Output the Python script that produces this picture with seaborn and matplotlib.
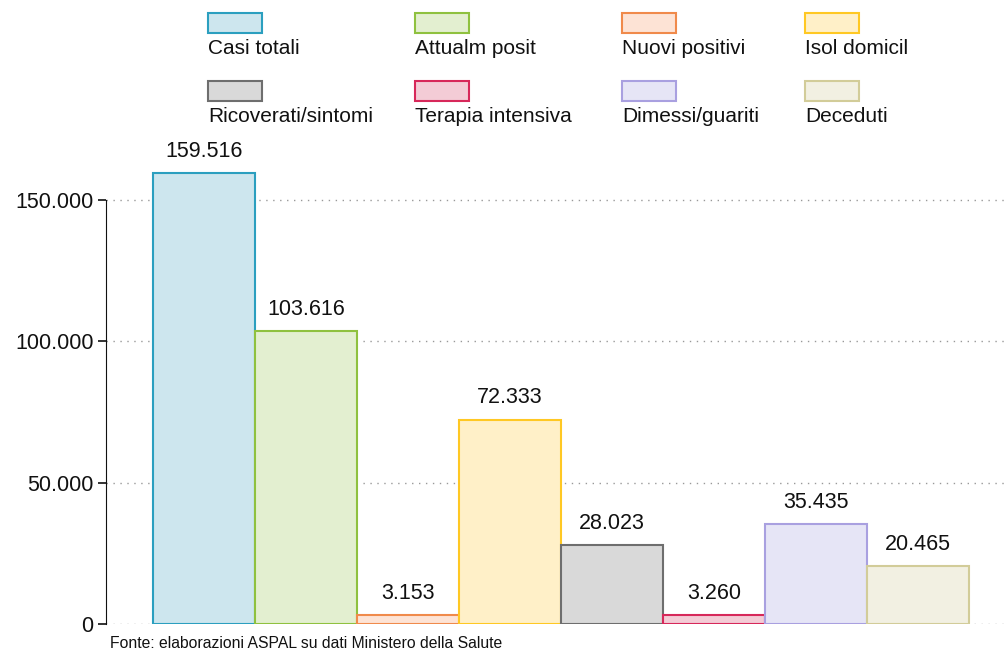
import matplotlib
matplotlib.use("Agg")
import matplotlib.pyplot as plt
import seaborn as sns
import pandas as pd
from matplotlib.patches import Rectangle

# Dati
categorie = ['Casi totali', 'Attualm posit', 'Nuovi positivi', 'Isol domicil',
             'Ricoverati/sintomi', 'Terapia intensiva', 'Dimessi/guariti', 'Deceduti']
valori = [159516, 103616, 3153, 72333, 28023, 3260, 35435, 20465]
riempimento = ['#cde6ee', '#e3efd0', '#fde3d5', '#fff0c8',
               '#d9d9d9', '#f3ccd6', '#e6e5f6', '#f2f0e2']
bordo = ['#2b9fbf', '#8fc13f', '#f08a4b', '#ffc823',
         '#6e6e6e', '#d7285a', '#a9a0e0', '#d2cc99']
tick_y = [0, 50000, 100000, 150000]

df = pd.DataFrame({'Categoria': categorie, 'Valore': valori})

sns.set_style('white')
plt.rcParams['font.family'] = ['Liberation Sans', 'DejaVu Sans']

W, H = 1005, 652
fig = plt.figure(figsize=(W / 100, H / 100), dpi=100)
ax = fig.add_axes([106 / W, 28 / H, 899 / W, 484 / H])

sns.barplot(data=df, x='Categoria', y='Valore', hue='Categoria',
            palette=riempimento, width=1.0, legend=False, ax=ax, saturation=1)

for p, ec in zip(ax.patches, bordo):
    p.set_edgecolor(ec)
    p.set_linewidth(1.5)

# Etichette valori
for i, v in enumerate(valori):
    ax.annotate(f'{v:,}'.replace(',', '.'), (i, v), xytext=(0, 8),
                textcoords='offset points', ha='center', va='bottom',
                fontsize=15.5, color='#111111')

ax.set_xlim(-0.96, 7.85)
ax.set_ylim(0, 171250)
ax.set_yticks(tick_y)
ax.set_yticklabels([f'{t:,}'.replace(',', '.') for t in tick_y], fontsize=15.5, color='#111111')
ax.set_xticks([])
ax.set_xlabel('')
ax.set_ylabel('')
ax.yaxis.grid(True, linestyle=(0, (1, 4)), color='#999999', linewidth=1)
ax.set_axisbelow(True)
for s in ['top', 'right', 'bottom']:
    ax.spines[s].set_visible(False)
ax.spines['left'].set_bounds(0, 150000)
ax.spines['left'].set_color('#111111')
ax.tick_params(axis='y', left=True, length=6, width=1.2, color='#111111', pad=3)

# Legenda: riquadro sopra l'etichetta
col_x = [208, 415, 622, 805]
riga_y = [13, 81]
for k, nome in enumerate(categorie):
    x0 = col_x[k % 4]
    y0 = riga_y[k // 4]
    fig.patches.append(Rectangle((x0 / W, 1 - (y0 + 20) / H), 54 / W, 20 / H,
                                 transform=fig.transFigure, facecolor=riempimento[k],
                                 edgecolor=bordo[k], linewidth=1.5))
    fig.text(x0 / W, 1 - (y0 + 35) / H, nome, fontsize=15, color='#111111',
             ha='left', va='center')

fig.text(110 / W, 1 - 643 / H, 'Fonte: elaborazioni ASPAL su dati Ministero della Salute',
         fontsize=11.3, color='#111111', ha='left', va='center')

fig.savefig('out.png', dpi=100)
